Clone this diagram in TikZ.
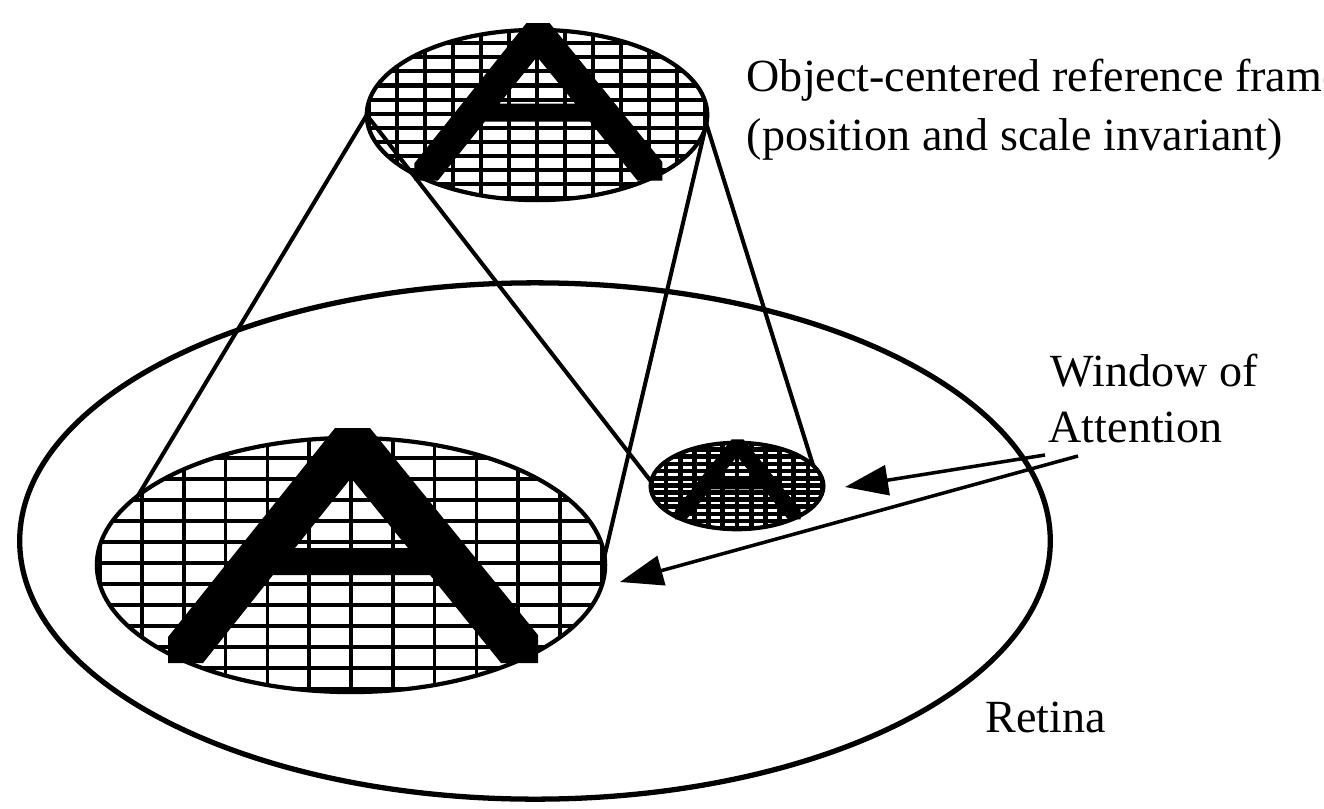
\documentclass[tikz,border=0pt]{standalone}
\usepackage{fontspec}
\setmainfont{Liberation Serif}
\usetikzlibrary{arrows.meta,shapes.geometric}
\tikzset{
  hell/.style={ellipse, draw, line width=1.2pt, inner sep=0pt, outer sep=0pt},
  retinabox/.style={ellipse, draw, line width=1.5pt, inner sep=0pt, outer sep=0pt},
  cone/.style={line width=1.15pt},
  arr/.style={line width=1pt, -{Triangle[length=0.43cm,width=0.30cm]}},
  lbl/.style={inner sep=0pt, anchor=base west, font=\fontsize{13.1pt}{15pt}\selectfont}
}
% name, centre x, centre y, scale, grid line width
\newcommand{\hatchedA}[5]{%
  \begin{scope}[shift={(#2,#3)},scale=#4]
    \begin{scope}
      \clip (0,0) ellipse [x radius=254, y radius=127];
      \foreach \k in {-6,...,6} \draw[line width=#5] (\k*41.8,-140) -- (\k*41.8,140);
      \foreach \k in {-7,...,7} \draw[line width=#5] (-270,\k*21-2) -- (270,\k*21-2);
    \end{scope}
    \fill[even odd rule] (-183,98) -- (-183,72) -- (-16,-137) -- (19,-137) -- (187,70) -- (187,98) -- (150,98) -- (79,10) -- (-78,10) -- (-148,98) -- cycle
      (0,-87) -- (57,-17) -- (-56,-17) -- cycle;
  \end{scope}
  \node[hell, minimum width={5.08cm*#4}, minimum height={2.54cm*#4}] (#1) at (#2,#3) {};
}
\begin{document}
\begin{tikzpicture}[x=0.01cm, y=-0.01cm]
\useasboundingbox (0,0) rectangle (1324,809);
\node[retinabox, minimum width=10.3cm, minimum height=5.16cm] (retina) at (535,541) {};
\hatchedA{top}{537}{115}{0.67}{1.15pt}
\hatchedA{big}{351}{565}{1}{1.05pt}
\hatchedA{small}{737}{486}{0.34}{1.35pt}
\draw[cone] (top.west) -- (big.162);
\draw[cone] (top.-3) -- (big.2);
\draw[cone] (top.west) -- (small.177);
\draw[cone] (top.-3) -- (small.15);
\node[lbl] (obj) at (746,91) {Object-centered reference frame};
\node[lbl] (inv) at (746,150) {(position and scale invariant)};
\node[lbl] (win) at (1050,386) {Window of};
\node[lbl] (att) at (1048,442) {Attention};
\node[lbl] (ret) at (985,732) {Retina};
\coordinate (wa1) at (1045,455);
\coordinate (wa2) at (1078,456);
\coordinate (tip1) at (845,487);
\coordinate (tip2) at (620,582);
\draw[arr] (wa1) -- (tip1);
\draw[arr] (wa2) -- (tip2);
\end{tikzpicture}
\end{document}
